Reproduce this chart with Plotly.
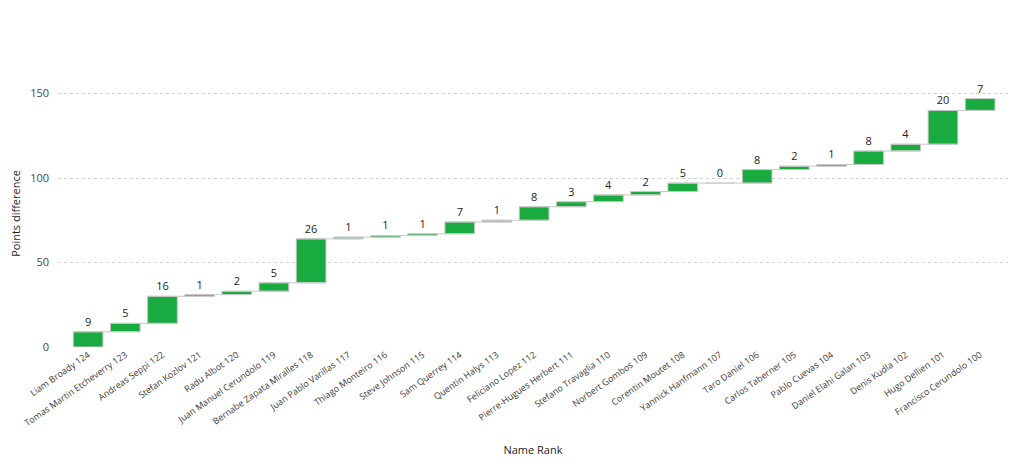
import plotly.graph_objects as go

names = ["Liam Broady 124", "Tomas Martin Etcheverry 123", "Andreas Seppi 122", "Stefan Kozlov 121",
         "Radu Albot 120", "Juan Manuel Cerundolo 119", "Bernabe Zapata Miralles 118",
         "Juan Pablo Varillas 117", "Thiago Monteiro 116", "Steve Johnson 115", "Sam Querrey 114",
         "Quentin Halys 113", "Feliciano Lopez 112", "Pierre-Hugues Herbert 111",
         "Stefano Travaglia 110", "Norbert Gombos 109", "Corentin Moutet 108",
         "Yannick Hanfmann 107", "Taro Daniel 106", "Carlos Taberner 105", "Pablo Cuevas 104",
         "Daniel Elahi Galan 103", "Denis Kudla 102", "Hugo Dellien 101", "Francisco Cerundolo 100"]
diffs = [9, 5, 16, 1, 2, 5, 26, 1, 1, 1, 7, 1, 8, 3, 4, 2, 5, 0, 8, 2, 1, 8, 4, 20, 7]
y_ticks = [0, 50, 100, 150]

fig = go.Figure(go.Waterfall(
    x=names,
    y=diffs,
    measure=["relative"] * len(diffs),
    text=[str(v) for v in diffs],
    textposition="outside",
    textfont=dict(family="Open Sans", size=11, color="#252423"),
    increasing=dict(marker=dict(color="#1aab40", line=dict(color="#c8c8c8", width=1))),
    decreasing=dict(marker=dict(color="#fd625e", line=dict(color="#c8c8c8", width=1))),
    connector=dict(line=dict(color="#c8c8c8", width=1), mode="spanning"),
    cliponaxis=False,
    hoverinfo="skip",
))

fig.update_layout(
    width=1016, height=456,
    margin=dict(l=50, r=16, t=72, b=117),
    paper_bgcolor="white", plot_bgcolor="white",
    showlegend=False,
    bargap=0.22,
    font=dict(family="Open Sans", color="#605e5c"),
)
fig.update_xaxes(
    range=[-0.81, len(names) - 0.25],
    tickangle=-35,
    tickfont=dict(size=9, color="#3b3a39"),
    title=dict(text="Name Rank", font=dict(size=11, color="#252423"), standoff=18),
    showgrid=False, zeroline=False, showline=False, ticks="",
    automargin=False,
)
fig.update_yaxes(
    range=[0, 158],
    tickvals=y_ticks,
    tickfont=dict(size=11, color="#484644"),
    title=dict(text="Points difference", font=dict(size=11, color="#252423"), standoff=12),
    showgrid=True, gridcolor="#d0d0d0", griddash="dot", gridwidth=1,
    zeroline=False, showline=False, ticks="", ticklabelstandoff=8,
    automargin=False,
)

fig.write_html("out.html")
